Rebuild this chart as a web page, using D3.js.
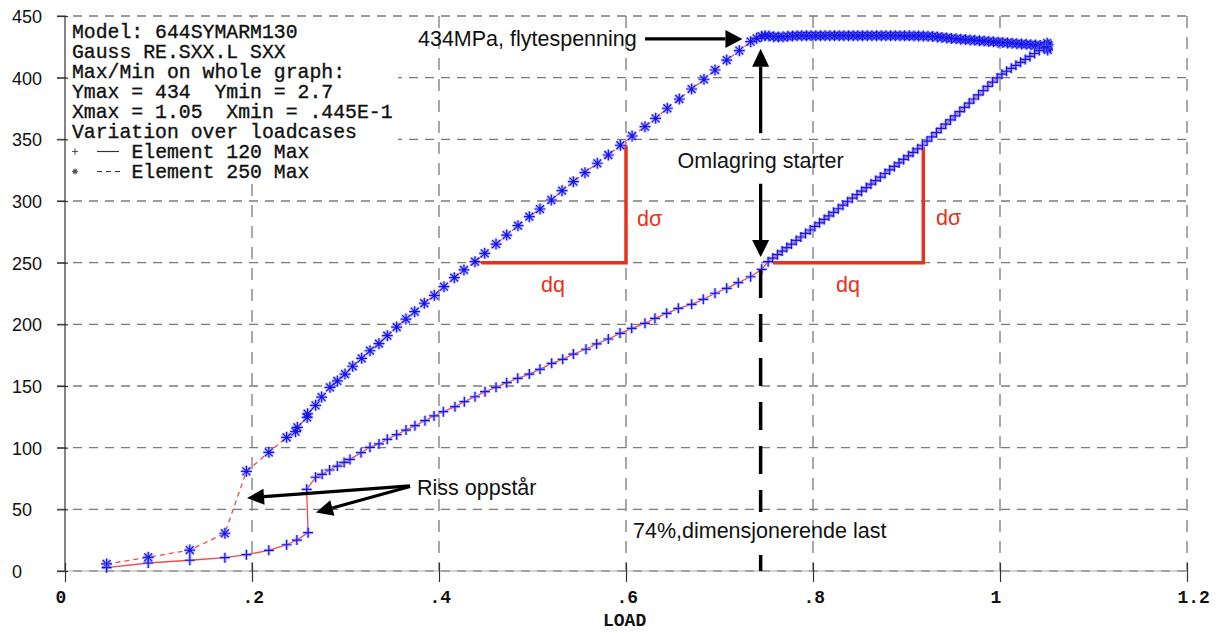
<!DOCTYPE html>
<html>
<head>
<meta charset="utf-8">
<script src="https://cdn.jsdelivr.net/npm/d3@7"></script>
<style>
  html, body { margin: 0; padding: 0; background: #fff; }
  svg { display: block; }
</style>
</head>
<body>
<svg id="chart" width="1216" height="633"></svg>
<script>
// ---- axis ticks ----
const xTicks = [0, 0.2, 0.4, 0.6, 0.8, 1.0, 1.2];
const xTickLabels = ["0", ".2", ".4", ".6", ".8", "1", "1.2"];
const yTicks = [0, 50, 100, 150, 200, 250, 300, 350, 400, 450];
const xTitle = "LOAD";

// ---- header block ----
const infoLines = [
  "Model: 644SYMARM130",
  "Gauss RE.SXX.L SXX",
  "Max/Min on whole graph:",
  "Ymax = 434  Ymin = 2.7",
  "Xmax = 1.05  Xmin = .445E-1",
  "Variation over loadcases"
];
const seriesNames = ["Element 120 Max", "Element 250 Max"];

// ---- Element 120: load factor vs SXX (MPa) ----
const load120 = [
  0.0445, 0.089, 0.1335, 0.171, 0.194, 0.218, 0.237, 0.248, 0.260, 0.2585,
  0.268, 0.275, 0.283, 0.2913, 0.2985, 0.3048, 0.3166, 0.3262, 0.3358, 0.3447,
  0.3547, 0.3647, 0.3743, 0.3850, 0.3947, 0.4046, 0.4171, 0.4271, 0.4385, 0.4492,
  0.4610, 0.4724, 0.4842, 0.4966, 0.5080, 0.5205, 0.5323, 0.5437, 0.5572, 0.5686,
  0.5811, 0.5936, 0.6061, 0.6203, 0.6310, 0.6435, 0.6560, 0.6702, 0.6827, 0.6952,
  0.7077, 0.7201, 0.7333, 0.7451, 0.752,
  0.757, 0.762, 0.767, 0.772, 0.777, 0.782, 0.787, 0.792, 0.797, 0.802,
  0.807, 0.812, 0.817, 0.822, 0.827, 0.832, 0.837, 0.842, 0.847, 0.852,
  0.857, 0.862, 0.867, 0.872, 0.877, 0.882, 0.887, 0.892, 0.897, 0.902,
  0.907, 0.912, 0.917, 0.922, 0.927, 0.932, 0.937, 0.942, 0.947, 0.952,
  0.957, 0.962, 0.967, 0.972, 0.977, 0.982, 0.987, 0.992, 0.997, 1.002,
  1.007, 1.012, 1.017, 1.022, 1.027, 1.032, 1.037, 1.042, 1.047, 1.05
];
const sxx120 = [
  2.7, 6.5, 8.7, 10.8, 13.2, 16.8, 21.3, 25.1, 31.1, 66.2,
  76.0, 78.4, 81.9, 85.1, 88.0, 90.5, 95.9, 100.3, 103.0, 106.8,
  110.5, 114.3, 117.8, 121.9, 125.7, 129.2, 133.2, 137.3, 141.3, 145.4,
  148.9, 152.7, 156.2, 159.7, 163.5, 168.4, 171.6, 175.9, 179.8, 184.1,
  188.1, 192.7, 196.8, 200.8, 204.9, 208.9, 213.0, 216.2, 220.3, 225.2,
  229.2, 233.8, 238.6, 244.6, 250.8,
  253.7, 256.5, 259.4, 262.2, 265.1, 268.0, 270.8, 273.7, 276.5, 279.4,
  282.3, 285.1, 288.0, 290.8, 293.7, 296.6, 299.4, 302.3, 305.1, 308.0,
  310.9, 313.7, 316.6, 319.4, 322.3, 325.2, 328.0, 330.9, 333.7, 336.6,
  339.5, 342.3, 345.2, 348.6, 352.0, 355.4, 358.9, 362.3, 365.7, 369.1,
  372.5, 375.9, 379.3, 382.7, 386.1, 389.5, 393.0, 396.4, 399.8, 402.8,
  405.2, 407.6, 410.0, 412.4, 414.8, 417.2, 419.6, 422.0, 424.1, 425.2
];

// ---- Element 250: load factor vs SXX (MPa) ----
const load250 = [
  0.0445, 0.089, 0.1335, 0.171, 0.194, 0.218, 0.237, 0.2465, 0.2485, 0.259,
  0.2595, 0.268, 0.2745, 0.2834, 0.2913, 0.2995, 0.3077, 0.3173, 0.3262, 0.3358,
  0.3447, 0.3547, 0.3647, 0.3740, 0.3843, 0.3950, 0.4053, 0.4164, 0.4267, 0.4385,
  0.4489, 0.4610, 0.4724, 0.4845, 0.4966, 0.5080, 0.5201, 0.5316, 0.5437, 0.5561,
  0.5693, 0.5811, 0.5940, 0.6065, 0.6203, 0.6317, 0.6442, 0.6570, 0.6702, 0.6834,
  0.6952, 0.7077, 0.7212, 0.7333, 0.7397, 0.7450, 0.7487,
  0.753, 0.758, 0.763, 0.768, 0.773, 0.778, 0.783, 0.788, 0.793, 0.798,
  0.803, 0.808, 0.813, 0.818, 0.823, 0.828, 0.833, 0.838, 0.843, 0.848,
  0.853, 0.858, 0.863, 0.868, 0.873, 0.878, 0.883, 0.888, 0.893, 0.898,
  0.903, 0.908, 0.913, 0.918, 0.923, 0.928, 0.933, 0.938, 0.943, 0.948,
  0.953, 0.958, 0.963, 0.968, 0.973, 0.978, 0.983, 0.988, 0.993, 0.998,
  1.003, 1.008, 1.013, 1.018, 1.023, 1.028, 1.033, 1.038, 1.043, 1.048,
  1.05, 1.0505, 1.051, 1.0515, 1.0505
];
const sxx250 = [
  5.7, 11.1, 17.0, 30.6, 80.8, 96.2, 108.4, 113.0, 116.5, 124.5,
  127.5, 134.3, 141.0, 148.9, 154.1, 159.7, 166.0, 172.4, 178.6, 184.3,
  190.8, 197.8, 204.3, 210.3, 217.1, 223.5, 230.5, 237.8, 244.1, 250.8,
  257.6, 265.1, 272.4, 280.0, 287.3, 293.5, 300.8, 308.4, 315.7, 323.0,
  330.6, 337.3, 345.2, 352.7, 360.3, 367.0, 375.2, 382.7, 390.8, 398.7,
  406.2, 414.3, 421.9, 429.2, 431.9, 433.6, 434.0,
  433.8, 433.2, 433.0, 433.1, 433.5, 433.8, 434.0, 434.0, 434.0, 434.0,
  434.0, 434.0, 434.0, 434.0, 434.0, 434.0, 434.0, 434.0, 434.0, 434.0,
  434.0, 434.0, 434.0, 434.0, 434.0, 434.0, 434.0, 434.0, 434.0, 433.9,
  433.9, 433.8, 433.8, 433.7, 433.6, 433.4, 433.0, 432.6, 432.2, 431.8,
  431.5, 431.2, 430.9, 430.6, 430.3, 430.0, 429.7, 429.4, 429.1, 428.8,
  428.5, 428.2, 427.9, 427.6, 427.3, 427.0, 426.7, 426.4, 426.1, 425.8,
  425.5, 428.0, 422.5, 426.5, 424.0
];

// ---- slope triangles (load, MPa) ----
const slopeLoads = [[0.445, 0.600], [0.757, 0.918]];
const slopeStress = [[250, 345], [250, 344]];

// ---- annotation anchors (load, MPa) ----
const yieldStress = 434;
const designLoad = 0.744;

const svg = d3.select("#chart");
const W = 1216, H = 633;
svg.append("rect").attr("width", W).attr("height", H).attr("fill", "#fff");

const x = d3.scaleLinear().domain([0, 1.2]).range([65, 1187]);
const y = d3.scaleLinear().domain([0, 450]).range([571, 16]);

const gridColor = "#7a7a7a";

// ---- grid ----
const grid = svg.append("g");
grid.selectAll("line.h").data(yTicks).join("line")
  .attr("x1", x(0) - 8).attr("x2", x(1.2))
  .attr("y1", d => y(d)).attr("y2", d => y(d))
  .attr("stroke", gridColor).attr("stroke-width", 1.3)
  .attr("stroke-dasharray", "9,7");
grid.selectAll("line.v").data(xTicks.slice(1)).join("line")
  .attr("x1", d => x(d)).attr("x2", d => x(d))
  .attr("y1", y(450)).attr("y2", y(0))
  .attr("stroke", gridColor).attr("stroke-width", 1.3)
  .attr("stroke-dasharray", "12,9");
// thin baseline under the dashed zero line
svg.append("line").attr("x1", x(0)).attr("x2", x(1.2))
  .attr("y1", y(0)).attr("y2", y(0))
  .attr("stroke", "#b0b0b0").attr("stroke-width", 1);

// blank panel behind the header text
svg.append("rect").attr("x", x(0) + 1).attr("y", y(450) + 2)
  .attr("width", 332).attr("height", 166).attr("fill", "#fff");

// ---- axes ----
svg.append("line").attr("x1", x(0)).attr("x2", x(0))
  .attr("y1", y(450)).attr("y2", y(0))
  .attr("stroke", "#333").attr("stroke-width", 1.2);

const gY = svg.append("g")
  .attr("transform", `translate(${x(0) + 3},0)`)
  .call(d3.axisLeft(y).tickValues(yTicks).tickSize(11).tickFormat(d3.format("d")));
gY.select(".domain").remove();
gY.selectAll(".tick line").attr("stroke", "#333").attr("stroke-width", 1.2);
gY.selectAll(".tick text")
  .attr("x", 12 - (x(0) + 3)).attr("text-anchor", "start").attr("dy", "0.36em")
  .attr("fill", "#111")
  .style("font-family", "'Liberation Sans', Arial, sans-serif").style("font-size", "18px");

const gX = svg.append("g")
  .attr("transform", `translate(0,${y(0) - 8})`)
  .call(d3.axisBottom(x).tickValues(xTicks).tickSize(19)
    .tickFormat((d, i) => xTickLabels[i]));
gX.select(".domain").remove();
gX.selectAll(".tick line").attr("stroke", "#333").attr("stroke-width", 1.2);
gX.selectAll(".tick text")
  .attr("x", -10).attr("text-anchor", "start")
  .attr("y", 603 - (y(0) - 8)).attr("dy", 0)
  .attr("fill", "#111")
  .style("font-family", "'Liberation Mono', monospace").style("font-weight", "bold")
  .style("font-size", "18px");

svg.append("text").attr("x", x(0.6) - 23).attr("y", 626).attr("text-anchor", "start")
  .attr("fill", "#111")
  .style("font-family", "'Liberation Mono', monospace").style("font-weight", "bold")
  .style("font-size", "18px").text(xTitle);

// ---- header text ----
const mono = "'Liberation Mono', 'DejaVu Sans Mono', monospace";
const info = svg.append("g").style("font-family", mono).style("font-size", "19.8px")
  .attr("fill", "#111").attr("stroke", "#111").attr("stroke-width", 0.35);
infoLines.forEach((t, i) => {
  info.append("text").attr("x", 72).attr("y", 37.5 + 20 * i)
    .attr("xml:space", "preserve").style("white-space", "pre").text(t);
});
// series key rows
const keyY = [157.5, 177.5];
seriesNames.forEach((t, i) => {
  info.append("text").attr("x", 72 + 5 * 11.88).attr("y", keyY[i]).text(t);
});
const k1 = 151.5, k2 = 171.5;
svg.append("path").attr("d", `M72,${k1}h6M75,${k1 - 3}v6`).attr("stroke", "#555").attr("stroke-width", 1.2);
svg.append("line").attr("x1", 97).attr("x2", 119).attr("y1", k1).attr("y2", k1)
  .attr("stroke", "#333").attr("stroke-width", 1.2);
svg.append("path").attr("d", `M72,${k2}h6M75,${k2 - 3}v6M73,${k2 - 2}l4,4M77,${k2 - 2}l-4,4`)
  .attr("stroke", "#555").attr("stroke-width", 1.1);
svg.append("line").attr("x1", 97).attr("x2", 121).attr("y1", k2).attr("y2", k2)
  .attr("stroke", "#333").attr("stroke-width", 1.2).attr("stroke-dasharray", "5,4");

// ---- slope triangles ----
const red = "#e8311c";
slopeLoads.forEach((q, i) => {
  const s = slopeStress[i];
  svg.append("path")
    .attr("d", `M${x(q[0])},${y(s[0])}H${x(q[1])}V${y(s[1])}`)
    .attr("fill", "none").attr("stroke", red).attr("stroke-width", 3.5);
});

// ---- series lines ----
const rows120 = load120.map((d, i) => [d, sxx120[i]]);
const rows250 = load250.map((d, i) => [d, sxx250[i]]);
const line = d3.line().x(d => x(d[0])).y(d => y(d[1]));
const lineRed = "#f04a4a";
svg.append("path").attr("d", line(rows250)).attr("fill", "none")
  .attr("stroke", lineRed).attr("stroke-width", 1.3).attr("stroke-dasharray", "5,4");
svg.append("path").attr("d", line(rows120)).attr("fill", "none")
  .attr("stroke", lineRed).attr("stroke-width", 1.3);

// ---- markers ----
const plusPath = r => `M${-r},0H${r}M0,${-r}V${r}`;
const starPath = r => {
  const k = r * 0.72;
  return `M${-r},0H${r}M0,${-r}V${r}M${-k},${-k}L${k},${k}M${k},${-k}L${-k},${k}`;
};
function drawMarkers(rows, pathStr) {
  const g = svg.append("g");
  g.selectAll("path.halo").data(rows).join("path")
    .attr("transform", d => `translate(${x(d[0])},${y(d[1])})`)
    .attr("d", pathStr).attr("fill", "none")
    .attr("stroke", "#8c8cff").attr("stroke-opacity", 0.55).attr("stroke-width", 3.2);
  g.selectAll("path.core").data(rows).join("path")
    .attr("transform", d => `translate(${x(d[0])},${y(d[1])})`)
    .attr("d", pathStr).attr("fill", "none")
    .attr("stroke", "#1414f0").attr("stroke-width", 1.2);
}
drawMarkers(rows250, starPath(5.5));
drawMarkers(rows120, plusPath(5));

// ---- annotations ----
const sans = "'Liberation Sans', Arial, Helvetica, sans-serif";
function arrow(x1, y1, x2, y2, len, half, width) {
  const a = Math.atan2(y2 - y1, x2 - x1);
  const bx = x2 - len * Math.cos(a), by = y2 - len * Math.sin(a);
  svg.append("line").attr("x1", x1).attr("y1", y1).attr("x2", bx).attr("y2", by)
    .attr("stroke", "#000").attr("stroke-width", width);
  const px = -Math.sin(a) * half, py = Math.cos(a) * half;
  svg.append("path")
    .attr("d", `M${x2},${y2}L${bx + px},${by + py}L${bx - px},${by - py}Z`)
    .attr("fill", "#000");
}
function label(tx, ty, t, color, anchor) {
  svg.append("text").attr("x", tx).attr("y", ty).attr("text-anchor", anchor || "start")
    .attr("fill", color || "#111")
    .style("font-family", sans).style("font-size", "21.5px").text(t);
}

// yield plateau
label(418, 46, "434MPa, flytespenning");
arrow(645, y(431.4), x(0.7245), y(431.4), 17, 9, 3.3);
// redistribution onset
arrow(x(designLoad), y(355), x(designLoad), y(423.5), 18, 8.5, 3.3);
label(x(designLoad), 168, "Omlagring starter", "#111", "middle");
arrow(x(designLoad), y(314), x(designLoad), y(254.5), 17, 8.5, 3.3);
// design load marker, broken around its caption
svg.append("line").attr("x1", x(designLoad)).attr("x2", x(designLoad))
  .attr("y1", y(244)).attr("y2", 512)
  .attr("stroke", "#000").attr("stroke-width", 3.5).attr("stroke-dasharray", "28,16");
svg.append("line").attr("x1", x(designLoad)).attr("x2", x(designLoad))
  .attr("y1", 555).attr("y2", y(0))
  .attr("stroke", "#000").attr("stroke-width", 3.5);
label(633, 538, "74%,dimensjonerende last");
// cracking
label(417, 495, "Riss oppstår");
arrow(x(0.369), y(69), x(0.1947), y(59.2), 17, 8, 3.3);
arrow(x(0.369), y(68.5), x(0.2684), y(47.4), 17, 8, 3.3);
// slope labels
label(637, 226, "dσ", red);
label(541, 292, "dq", red);
label(936, 225, "dσ", red);
label(836, 292, "dq", red);
</script>
</body>
</html>
